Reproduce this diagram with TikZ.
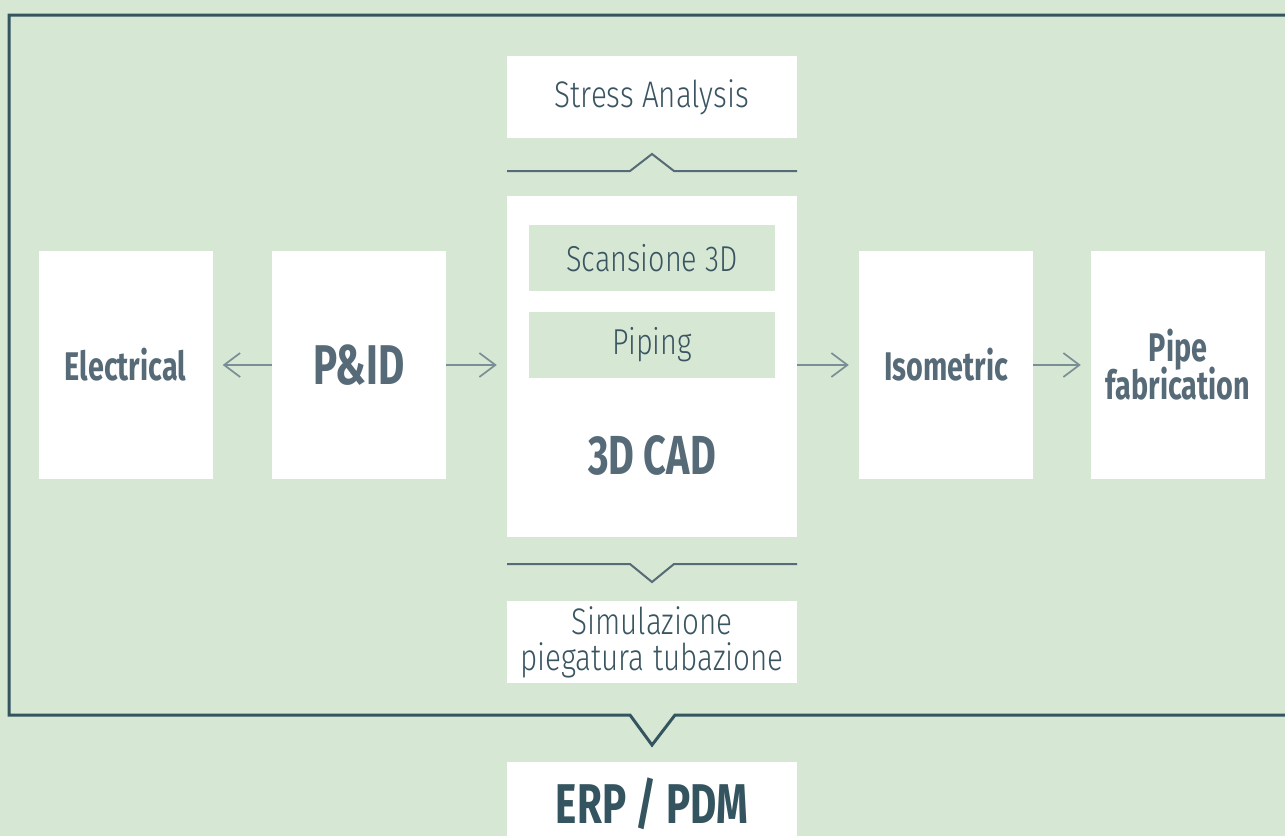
\documentclass[tikz,border=0pt]{standalone}
\usepackage{fontspec}
\setmainfont{Fira Sans}[FakeStretch=0.72]
\newfontfamily\lightfont{Fira Sans Light}[FakeStretch=0.8]
\usepackage{tikz}
\usetikzlibrary{arrows.meta}
\definecolor{sage}{HTML}{D6E7D4}
\definecolor{slate}{HTML}{34545F}
\definecolor{ink}{HTML}{566B77}
\definecolor{inkdark}{HTML}{3A5561}
\definecolor{arrowgrey}{HTML}{7A8E95}
\newcommand{\tightlines}{\lineskiplimit -40pt\relax}
\newcommand{\tikzNotchLine}[2]{
  \draw[notch] (507,#1) -- (630,#1) -- (652,{#1+(#2)}) -- (674,#1) -- (797,#1);
}

\begin{document}
\begin{tikzpicture}[x=1pt, y=-1pt,
  whitebox/.style={fill=white, inner sep=0pt, minimum width=290pt, minimum height=82pt, text=inkdark, align=center},
  sidebox/.style={fill=white, inner sep=0pt, minimum width=174pt, minimum height=228pt, text=ink, align=center, font=\bfseries\fontsize{40}{38}\selectfont\tightlines},
  greenbox/.style={fill=sage, inner sep=0pt, minimum width=246pt, minimum height=66pt, text=inkdark, font=\lightfont\fontsize{36}{38}\selectfont},
  notch/.style={draw=ink, line width=2pt},
  flow/.style={draw=arrowgrey, line width=1.7pt, -{Straight Barb[length=16pt,width=24pt,line width=1.7pt]}, shorten >=10pt}]
  \fill[sage] (0,0) rectangle (1285,836);
  \useasboundingbox (0,0) rectangle (1285,836);

  %outer frame
  \draw[slate, line width=3pt] (1290,15) -- (9,15) -- (9,715) -- (630,715) -- (652,745) -- (675,715) -- (1290,715);

  %central column
  \node [whitebox, font=\lightfont\fontsize{37}{38}\selectfont] (stress) at (652,97) {Stress Analysis};
  \tikzNotchLine{171}{-17}
  \node [whitebox, minimum height=341pt] (cad) at (652,366.5) {};
  \node [greenbox] (scan) at (652,258) {Scansione 3D};
  \node [greenbox] (piping) at (652,345) {Piping};
  \node [text=ink, font=\bfseries\fontsize{55}{55}\selectfont] (cadtext) at (652,455) {3D CAD};
  \tikzNotchLine{564}{18}
  \node [whitebox, font=\lightfont\fontsize{37}{36}\selectfont\tightlines] (sim) at (652,642) {Simulazione\\piegatura tubazione};
  \node [whitebox, minimum height=96pt, anchor=north, text=slate, font=\bfseries\fontsize{56}{56}\selectfont] (erp) at (652,762) {};
  \node [text=slate, font=\bfseries\fontsize{56}{56}\selectfont] (erptext) at (652,804) {ERP / PDM};

  %row of steps
  \node [sidebox] (elec) at (125.5,365) {Electrical};
  \node [sidebox, font=\bfseries\fontsize{56}{56}\selectfont] (pid) at (359,365) {P\&ID};
  \node [sidebox] (iso) at (946,365) {Isometric};
  \node [sidebox] (pipe) at (1178,365) {Pipe\\fabrication};

  \path [flow] (pid.west) -- (elec.east |- pid.west);
  \path [flow] (pid.east) -- (cad.west |- pid.east);
  \path [flow] (cad.east |- iso.west) -- (iso.west);
  \path [flow] (iso.east) -- (pipe.west);
\end{tikzpicture}
\end{document}
